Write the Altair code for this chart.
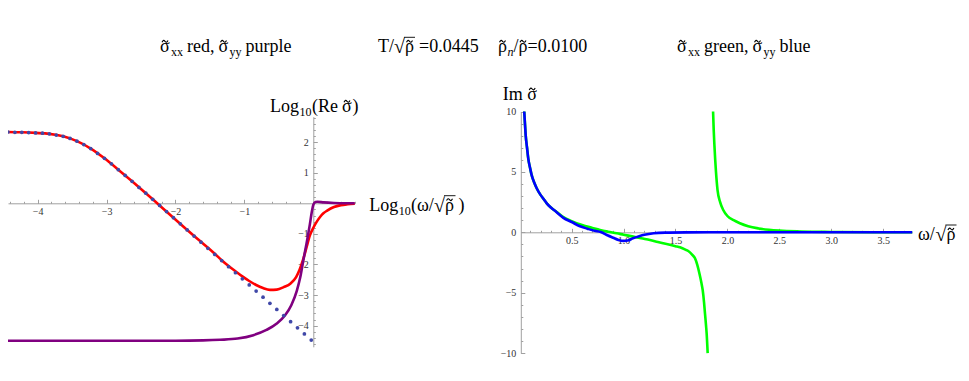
import altair as alt
import pandas as pd

# ---------------- data ----------------
dots_x = [-4.43, -4.33, -4.23, -4.13, -4.03, -3.93, -3.83, -3.73, -3.63, -3.53,
          -3.43, -3.33, -3.23, -3.13, -3.03, -2.93, -2.83, -2.73, -2.63, -2.53,
          -2.43, -2.33, -2.23, -2.13, -2.03, -1.93, -1.83, -1.73, -1.63, -1.53,
          -1.43, -1.33, -1.23, -1.13, -1.03, -0.93, -0.83, -0.73, -0.63, -0.53,
          -0.43, -0.33, -0.23, -0.13, -0.03]
dots_y = [2.33, 2.32, 2.32, 2.31, 2.30, 2.29, 2.27, 2.23, 2.19, 2.12,
          2.03, 1.92, 1.79, 1.63, 1.47, 1.29, 1.10, 0.91, 0.72, 0.52,
          0.33, 0.13, -0.07, -0.27, -0.47, -0.67, -0.87, -1.07, -1.27, -1.47,
          -1.67, -1.87, -2.07, -2.27, -2.47, -2.67, -2.87, -3.07, -3.27, -3.47,
          -3.67, -3.87, -4.07, -4.27, -4.47]

red_x = [-4.43, -4.23, -4.03, -3.83, -3.63, -3.43, -3.23, -3.03, -2.83, -2.63,
         -2.43, -2.23, -2.03, -1.83, -1.63, -1.43, -1.33, -1.23, -1.13, -1.03,
         -0.93, -0.83, -0.73, -0.63, -0.53, -0.43, -0.33, -0.25, -0.2, -0.15,
         -0.1, -0.05, 0.0, 0.05, 0.1, 0.15, 0.2, 0.3, 0.4, 0.5, 0.6]
red_y = [2.33, 2.32, 2.30, 2.27, 2.19, 2.03, 1.79, 1.47, 1.10, 0.72,
         0.33, -0.07, -0.47, -0.87, -1.26, -1.65, -1.86, -2.05, -2.22, -2.39,
         -2.54, -2.67, -2.77, -2.83, -2.82, -2.74, -2.62, -2.41, -2.17, -1.85,
         -1.45, -1.05, -0.80, -0.60, -0.44, -0.32, -0.24, -0.12, -0.06, -0.03, -0.01]

purple_x = [-4.43, -3.0, -2.0, -1.6, -1.35, -1.1, -0.87, -0.68, -0.53, -0.41,
            -0.32, -0.24, -0.19, -0.145, -0.1, -0.05, -0.02, 0.0, 0.03, 0.06,
            0.15, 0.3, 0.45, 0.6]
purple_y = [-4.49, -4.49, -4.49, -4.48, -4.46, -4.42, -4.31, -4.14, -3.93, -3.66,
            -3.33, -2.86, -2.42, -1.86, -1.33, -0.68, -0.25, -0.05, 0.04, 0.05,
            0.03, 0.01, 0.0, 0.0]

blue_x = [0.043, 0.05, 0.057, 0.07, 0.082, 0.1, 0.114, 0.14, 0.163, 0.2,
          0.226, 0.26, 0.3, 0.35, 0.42, 0.5, 0.58, 0.65, 0.72, 0.78,
          0.85, 0.9, 0.95, 1.0, 1.04, 1.09, 1.15, 1.2, 1.29, 1.4,
          1.6, 2.0, 3.78]
blue_y = [10, 9.0, 8.05, 7.0, 6.1, 5.3, 4.75, 4.1, 3.65, 3.1,
          2.8, 2.4, 2.05, 1.7, 1.2, 0.85, 0.5, 0.3, 0.12, 0.02,
          -0.27, -0.45, -0.63, -0.71, -0.68, -0.5, -0.33, -0.21, -0.08, -0.03,
          -0.01, 0.0, 0.0]

green1_x = [0.043, 0.05, 0.057, 0.07, 0.082, 0.1, 0.114, 0.14, 0.163, 0.2,
            0.226, 0.26, 0.3, 0.35, 0.42, 0.5, 0.6, 0.7, 0.773, 0.85,
            0.933, 1.0, 1.093, 1.17, 1.254, 1.33, 1.415, 1.5, 1.543, 1.6,
            1.623, 1.66, 1.688, 1.71, 1.73, 1.75, 1.762, 1.775, 1.784, 1.795,
            1.8, 1.81]
green1_y = [10, 9.0, 8.05, 7.0, 6.1, 5.3, 4.75, 4.1, 3.65, 3.1,
            2.8, 2.4, 2.05, 1.72, 1.25, 0.92, 0.6, 0.36, 0.19, 0.05,
            -0.08, -0.2, -0.36, -0.5, -0.64, -0.8, -0.97, -1.15, -1.24, -1.45,
            -1.55, -1.85, -2.15, -2.7, -3.39, -4.2, -4.78, -5.8, -6.71, -7.8,
            -8.36, -10]

green2_x = [1.862, 1.868, 1.875, 1.89, 1.905, 1.93, 1.96, 2.0, 2.06, 2.12,
            2.2, 2.3, 2.4, 2.5, 2.7, 3.0, 3.4, 3.78]
green2_y = [10, 8.5, 7.2, 5.0, 3.5, 2.5, 1.85, 1.35, 1.0, 0.75,
            0.5, 0.32, 0.21, 0.14, 0.07, 0.03, 0.01, 0.0]

left_x_major = [-4, -3, -2, -1]
left_y_major = [-4, -3, -2, -1, 1, 2]
right_x_major = [0.5, 1.0, 1.5, 2.0, 2.5, 3.0, 3.5]
right_y_major = [-10, -5, 0, 5, 10]

# ---------------- layout ----------------
W, H = 953, 365
F = "Liberation Serif"
AX = "#a0a0a0"
LC = "#333333"

L_XDOM, L_XRNG = [-4.43, 0.6], [0, 346.7]
L_YDOM, L_YRNG = [-4.69, 2.83], [338.8, 108.7]
L_X0, L_Y0 = 305.3, 195.3          # pixel of x=0 / y=0 in left panel
R_XDOM, R_XRNG = [0.01, 3.78], [512.8, 904.2]
R_YDOM, R_YRNG = [-10, 10], [345.1, 103.5]
R_X0, R_Y0 = 512.8, 224.3


def df(xs, ys):
    return pd.DataFrame({"x": xs, "y": ys})


def sx(dom, rng):
    return alt.Scale(domain=dom, range=rng, nice=False, zero=False)


def main_axes(xvals, yvals, x0, y0, fmt):
    ax = alt.Axis(orient="bottom", offset=y0 - H, values=xvals, ticks=False, tickSize=0,
                  domain=True, domainColor=AX, domainWidth=1, labelFont=F, labelFontSize=10,
                  labelColor=LC, labelPadding=3, labelOverlap=False, labelFlush=False,
                  grid=False, title=None, format=fmt)
    ay = alt.Axis(orient="left", offset=-x0, values=yvals, ticks=False, tickSize=0,
                  domain=True, domainColor=AX, domainWidth=1, labelFont=F, labelFontSize=10,
                  labelColor=LC, labelPadding=5, labelOverlap=False, labelFlush=False,
                  grid=False, title=None, format="d")
    return ax, ay


def tick_axes(xvals, yvals, x0, y0, size):
    ax = alt.Axis(orient="top", offset=-y0, values=xvals, labels=False, domain=False,
                  ticks=True, tickSize=size, tickColor=AX, tickWidth=1, grid=False, title=None)
    ay = alt.Axis(orient="right", offset=x0 - W, values=yvals, labels=False, domain=False,
                  ticks=True, tickSize=size, tickColor=AX, tickWidth=1, grid=False, title=None)
    return ax, ay


def line(data, color, xdom, xrng, ydom, yrng, ax=None, ay=None):
    return alt.Chart(data).mark_line(color=color, strokeWidth=2.6, interpolate="monotone").encode(
        x=alt.X("x:Q", scale=sx(xdom, xrng), axis=ax),
        y=alt.Y("y:Q", scale=sx(ydom, yrng), axis=ay),
    )


def ghost(data, xdom, xrng, ydom, yrng, ax, ay):
    return alt.Chart(data).mark_point(opacity=0).encode(
        x=alt.X("x:Q", scale=sx(xdom, xrng), axis=ax),
        y=alt.Y("y:Q", scale=sx(ydom, yrng), axis=ay),
    )


# ---------------- left panel ----------------
lax, lay = main_axes(left_x_major, left_y_major, L_X0, L_Y0, "d")
red = line(df(red_x, red_y), "#ff0000", L_XDOM, L_XRNG, L_YDOM, L_YRNG, lax, lay)
purple = line(df(purple_x, purple_y), "#800080", L_XDOM, L_XRNG, L_YDOM, L_YRNG)
dots = alt.Chart(df(dots_x, dots_y)).mark_circle(color="#4048a8", size=14, opacity=1).encode(
    x=alt.X("x:Q", scale=sx(L_XDOM, L_XRNG), axis=None),
    y=alt.Y("y:Q", scale=sx(L_YDOM, L_YRNG), axis=None),
)
tma = tick_axes(left_x_major, left_y_major, L_X0, L_Y0, 4)
ltickA = ghost(df(dots_x, dots_y), L_XDOM, L_XRNG, L_YDOM, L_YRNG, *tma)
tmi = tick_axes([round(-4.4 + 0.2 * i, 1) for i in range(26)],
                [round(-4.6 + 0.2 * i, 1) for i in range(38)], L_X0, L_Y0, 2)
ltickB = ghost(df(dots_x, dots_y), L_XDOM, L_XRNG, L_YDOM, L_YRNG, *tmi)

# ---------------- right panel ----------------
rax, ray = main_axes(right_x_major, right_y_major, R_X0, R_Y0, ".1f")
green1 = line(df(green1_x, green1_y), "#00ff00", R_XDOM, R_XRNG, R_YDOM, R_YRNG, rax, ray)
green2 = line(df(green2_x, green2_y), "#00ff00", R_XDOM, R_XRNG, R_YDOM, R_YRNG)
blue = line(df(blue_x, blue_y), "#0000ff", R_XDOM, R_XRNG, R_YDOM, R_YRNG)
rma = tick_axes(right_x_major, right_y_major, R_X0, R_Y0, 4)
rtickA = ghost(df(blue_x, blue_y), R_XDOM, R_XRNG, R_YDOM, R_YRNG, *rma)
rmi = tick_axes([round(0.1 + 0.1 * i, 1) for i in range(37)],
                [float(v) for v in range(-10, 11)], R_X0, R_Y0, 2)
rtickB = ghost(df(blue_x, blue_y), R_XDOM, R_XRNG, R_YDOM, R_YRNG, *rmi)


# ---------------- text pieces ----------------
def txt(s, x, y, size=18, style="normal", align="left"):
    return alt.Chart(alt.Data(values=[{}])).mark_text(
        text=s, font=F, fontSize=size, fontStyle=style, align=align,
        baseline="alphabetic", color="black").encode(x=alt.value(x), y=alt.value(y))


TILDE = "M -1 0.3 C -0.6 -0.45 -0.35 -0.45 0 0 C 0.35 0.45 0.6 0.45 1 -0.3"


def tl(x, y):
    # tilde accent (drawn as a small path) centred at x, above a glyph with baseline y
    return alt.Chart(alt.Data(values=[{}])).mark_point(
        shape=TILDE, size=36, filled=False, color="black", strokeWidth=1.1, opacity=1
    ).encode(x=alt.value(x), y=alt.value(y - 11))


def bar(x1, x2, y):
    return alt.Chart(alt.Data(values=[{}])).mark_rule(color="black", strokeWidth=0.9).encode(
        x=alt.value(x1), x2=alt.value(x2), y=alt.value(y))


SG = "\u03c3"
RH = "\u03c1"
TB = 44.3
texts = [
    # title group 1
    txt(SG, 152, TB), tl(157, TB), txt("xx", 163, TB + 4, 12), txt("red,", 179, TB),
    txt(SG, 210.5, TB), tl(215.5, TB), txt("yy", 221.5, TB + 4, 12), txt("purple", 237.5, TB),
    # title group 2
    txt("T/", 370, TB), txt("\u221a", 386, TB + 1, 20), txt(RH, 397, TB), tl(401.5, TB),
    txt("=0.0445", 411, TB), bar(396, 407, TB - 15),
    txt(RH, 490, TB), tl(494.5, TB), txt("n", 499.5, TB + 4, 12, "italic"),
    txt("/", 505.5, TB), txt(RH, 510.5, TB), tl(515, TB), txt("=0.0100", 519.5, TB),
    # title group 3
    txt(SG, 669, TB), tl(674, TB), txt("xx", 680, TB + 4, 12), txt("green,", 696, TB),
    txt(SG, 744.5, TB), tl(749.5, TB), txt("yy", 755.5, TB + 4, 12), txt("blue", 771.5, TB),
    # left axis labels
    txt("Log", 262, 104.3), txt("10", 291.5, 108.3, 12), txt("(Re", 304, 104.3),
    txt(SG, 334, 104.3), tl(339, 104.3), txt(")", 344.5, 104.3),
    txt("Log", 361.3, 202.7), txt("10", 390.8, 206.7, 12), txt("(\u03c9/", 403, 202.7),
    txt("\u221a", 426, 203.7, 20), txt(RH, 437, 202.7), tl(441.5, 202.7),
    txt(")", 450.5, 202.7), bar(436, 447.5, 187.7),
    # right axis labels
    txt("Im", 494.7, 92), txt(SG, 519.2, 92), tl(524.2, 92),
    txt("\u03c9/", 910, 232), txt("\u221a", 927.4, 233, 20), txt(RH, 938.4, 232),
    tl(942.9, 232), bar(937.4, 948.5, 217),
]

chart = alt.layer(
    red, purple, dots, ltickA, ltickB,
    green1, green2, blue, rtickA, rtickB,
    *texts,
).resolve_scale(x="independent", y="independent").properties(
    width=W, height=H, autosize=alt.AutoSizeParams(type="none"), padding=0,
    background="white",
).configure_view(strokeWidth=0)

chart.save("out.html", embed_options={"renderer": "svg", "actions": False})
